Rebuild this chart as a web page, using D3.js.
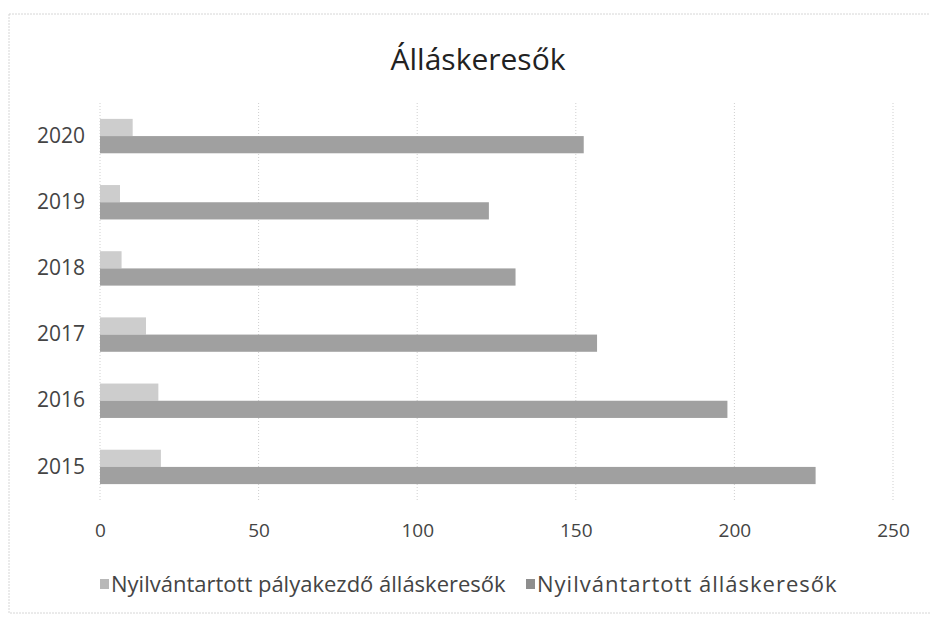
<!DOCTYPE html>
<html>
<head>
<meta charset="utf-8">
<script src="https://cdn.jsdelivr.net/npm/d3@7"></script>
<style>
  body { margin: 0; background: #fff; }
  text { font-family: "Open Sans", sans-serif; fill: #444; }
</style>
</head>
<body>
<svg id="chart"></svg>
<script>
// data
var years = ['2020', '2019', '2018', '2017', '2016', '2015'];
var seriesNames = ['Nyilvántartott pályakezdő álláskeresők', 'Nyilvántartott álláskeresők'];
var palyakezdo = [10.3, 6.3, 6.8, 14.5, 18.4, 19.2];
var osszes = [152.5, 122.6, 131, 156.7, 197.8, 225.6];
var xTicks = [0, 50, 100, 150, 200, 250];
var colors = ['#cdcdcd', '#a0a0a0'];

var width = 930, height = 618;
var margin = {top: 103, right: 37, bottom: 118, left: 100};

var svg = d3.select('#chart')
  .attr('width', width)
  .attr('height', height);

// outer frame
svg.append('rect')
  .attr('x', 9).attr('y', 14)
  .attr('width', width + 20).attr('height', 599)
  .style('fill', 'none')
  .style('stroke', '#d6d6d6')
  .style('stroke-dasharray', '2,1');

var x = d3.scaleLinear().domain([0, 250]).range([margin.left, width - margin.right]);
var y = d3.scaleBand().domain(years)
  .range([margin.top, height - margin.bottom])
  .paddingInner(0.48).paddingOuter(0.24);
var ySub = d3.scaleBand().domain([0, 1]).range([0, y.bandwidth()]);

// grid lines
svg.append('g')
  .selectAll('line')
  .data(xTicks)
  .enter()
  .append('line')
    .attr('x1', function(d) { return x(d); })
    .attr('x2', function(d) { return x(d); })
    .attr('y1', margin.top)
    .attr('y2', height - margin.bottom)
    .style('stroke', '#cfcfcf')
    .style('stroke-dasharray', '1,2');

// bars
var rows = years.map(function(yr, i) {
  return {year: yr, values: [palyakezdo[i], osszes[i]]};
});

var group = svg.append('g').selectAll('g.row')
  .data(rows)
  .enter()
  .append('g')
    .attr('class', 'row')
    .attr('transform', function(d) { return 'translate(0,' + y(d.year) + ')'; });

group.selectAll('rect')
  .data(function(d) { return d.values; })
  .enter()
  .append('rect')
    .attr('x', x(0))
    .attr('y', function(d, i) { return ySub(i); })
    .attr('width', function(d) { return x(d) - x(0); })
    .attr('height', ySub.bandwidth())
    .style('fill', function(d, i) { return colors[i]; });

// x axis labels
var xAxis = svg.append('g')
  .attr('transform', 'translate(0,' + (height - margin.bottom) + ')')
  .call(d3.axisBottom(x).tickValues(xTicks).tickSize(0).tickPadding(24));
xAxis.select('.domain').remove();
xAxis.selectAll('text')
  .style('font-size', '19px')
  .style('fill', '#444')
  .style('font-family', '"Open Sans", sans-serif');

// y axis labels
var yAxis = svg.append('g')
  .attr('transform', 'translate(' + margin.left + ',0)')
  .call(d3.axisLeft(y).tickSize(0).tickPadding(15));
yAxis.select('.domain').remove();
yAxis.selectAll('text')
  .style('font-size', '21px')
  .style('fill', '#444')
  .style('font-family', '"Open Sans", sans-serif');

// title
svg.append('text')
  .attr('x', 478)
  .attr('y', 70)
  .attr('text-anchor', 'middle')
  .style('font-size', '30px')
  .style('fill', '#222')
  .text('Álláskeresők');

// legend
var legendX = [100, 526];
var legend = svg.append('g').selectAll('g.legend')
  .data(seriesNames)
  .enter()
  .append('g')
    .attr('class', 'legend')
    .attr('transform', function(d, i) { return 'translate(' + legendX[i] + ',585)'; });

legend.append('rect')
  .attr('x', 0).attr('y', -6)
  .attr('width', 9).attr('height', 10)
  .style('fill', function(d, i) { return i === 0 ? '#b8b8b8' : '#8e8e8e'; });

legend.append('text')
  .attr('x', 11)
  .attr('y', 7)
  .style('font-size', '22px')
  .style('letter-spacing', function(d, i) { return i === 0 ? '0px' : '1px'; })
  .text(function(d) { return d; });
</script>
</body>
</html>
